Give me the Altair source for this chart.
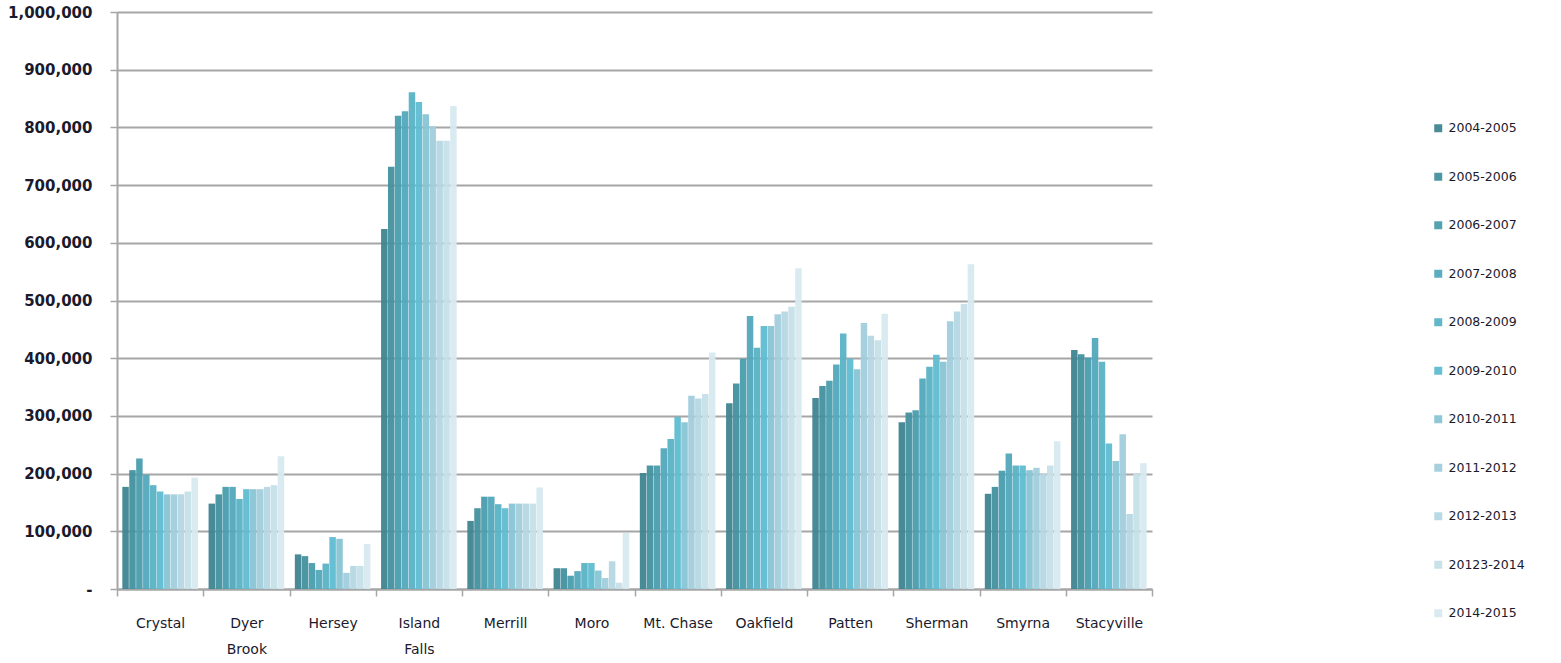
import altair as alt
import pandas as pd

towns = ["Crystal", "Dyer Brook", "Hersey", "Island Falls", "Merrill", "Moro",
         "Mt. Chase", "Oakfield", "Patten", "Sherman", "Smyrna", "Stacyville"]
years = ["2004-2005", "2005-2006", "2006-2007", "2007-2008", "2008-2009", "2009-2010",
         "2010-2011", "2011-2012", "2012-2013", "20123-2014", "2014-2015"]
colors = ["#3F8491", "#43909E", "#4A9DAE", "#52A8BA", "#58B2C5", "#5EBCD0",
          "#88C4D4", "#A2CEDC", "#B5D7E3", "#C6E0E9", "#D7E9EF"]

crystal = [177000, 206000, 226000, 198000, 180000, 169000, 164000, 164000, 164000, 169000, 193000]
dyer_brook = [148000, 164000, 177000, 177000, 156000, 173000, 173000, 173000, 177000, 180000, 230000]
hersey = [60000, 57000, 45000, 33000, 44000, 90000, 87000, 28000, 40000, 40000, 78000]
island_falls = [624000, 732000, 820000, 828000, 861000, 844000, 823000, 802000, 777000, 777000, 837000]
merrill = [118000, 140000, 160000, 160000, 147000, 140000, 148000, 148000, 148000, 148000, 176000]
moro = [36000, 36000, 23000, 31000, 45000, 45000, 32000, 19000, 48000, 11000, 97000]
mt_chase = [201000, 214000, 214000, 244000, 260000, 298000, 289000, 335000, 330000, 338000, 410000]
oakfield = [322000, 356000, 399000, 473000, 418000, 456000, 456000, 476000, 481000, 489000, 556000]
patten = [331000, 352000, 361000, 389000, 443000, 399000, 381000, 461000, 439000, 431000, 477000]
sherman = [289000, 306000, 310000, 365000, 385000, 406000, 394000, 464000, 481000, 494000, 563000]
smyrna = [165000, 177000, 205000, 235000, 214000, 214000, 206000, 210000, 200000, 214000, 256000]
stacyville = [414000, 407000, 401000, 435000, 394000, 252000, 222000, 268000, 130000, 200000, 218000]

series = [crystal, dyer_brook, hersey, island_falls, merrill, moro,
          mt_chase, oakfield, patten, sherman, smyrna, stacyville]

rows = []
for town, vals in zip(towns, series):
    for yr, v in zip(years, vals):
        rows.append({"Town": town, "Year": yr, "Value": v})
df = pd.DataFrame(rows)

FONT = "DejaVu Sans"
TXT = "#1a1a2e"

bars = alt.Chart(df).mark_bar(opacity=0.95).encode(
    x=alt.X("Town:N", sort=towns, title=None,
            scale=alt.Scale(paddingInner=0, paddingOuter=0),
            axis=alt.Axis(labelAngle=0, tickBand="extent", ticks=True, tickSize=7,
                          tickColor="#A6A6A6", tickWidth=1.5,
                          domainColor="#A6A6A6", domainWidth=2,
                          labelFont=FONT, labelFontSize=14, labelColor=TXT,
                          labelPadding=20, labelLineHeight=26, grid=False,
                          labelExpr="datum.value == 'Dyer Brook' ? ['Dyer', 'Brook'] : datum.value == 'Island Falls' ? ['Island', 'Falls'] : datum.value")),
    xOffset=alt.XOffset("Year:N", sort=years,
                        scale=alt.Scale(paddingInner=0.06, paddingOuter=0.77)),
    y=alt.Y("Value:Q", title=None,
            scale=alt.Scale(domain=[0, 1000000], nice=False),
            axis=alt.Axis(values=[i * 100000 for i in range(11)],
                          labelExpr="datum.value == 0 ? '-' : format(datum.value, ',')",
                          labelFont=FONT, labelFontSize=15, labelFontWeight="bold",
                          labelColor=TXT, labelPadding=18,
                          tickSize=7, tickColor="#A6A6A6", tickWidth=1.5,
                          domainColor="#A6A6A6", domainWidth=2,
                          grid=True, gridColor="#A6A6A6", gridWidth=2)),
    color=alt.Color("Year:N", sort=years,
                    scale=alt.Scale(domain=years, range=colors),
                    legend=alt.Legend(title=None, orient="none", legendX=1315, legendY=110,
                                      symbolType="square", symbolSize=64, symbolStrokeWidth=0,
                                      labelFont=FONT, labelFontSize=12.5, labelColor=TXT,
                                      rowPadding=35.5, labelOffset=4)),
)

chart = bars.properties(
    width=1035, height=577,
    background="white",
    autosize=alt.AutoSizeParams(type="none"),
    padding={"left": 117, "top": 12, "right": 409, "bottom": 74},
).configure_view(stroke="transparent", strokeWidth=0)

chart.save("out.html", embed_options={"renderer": "svg", "actions": False})
